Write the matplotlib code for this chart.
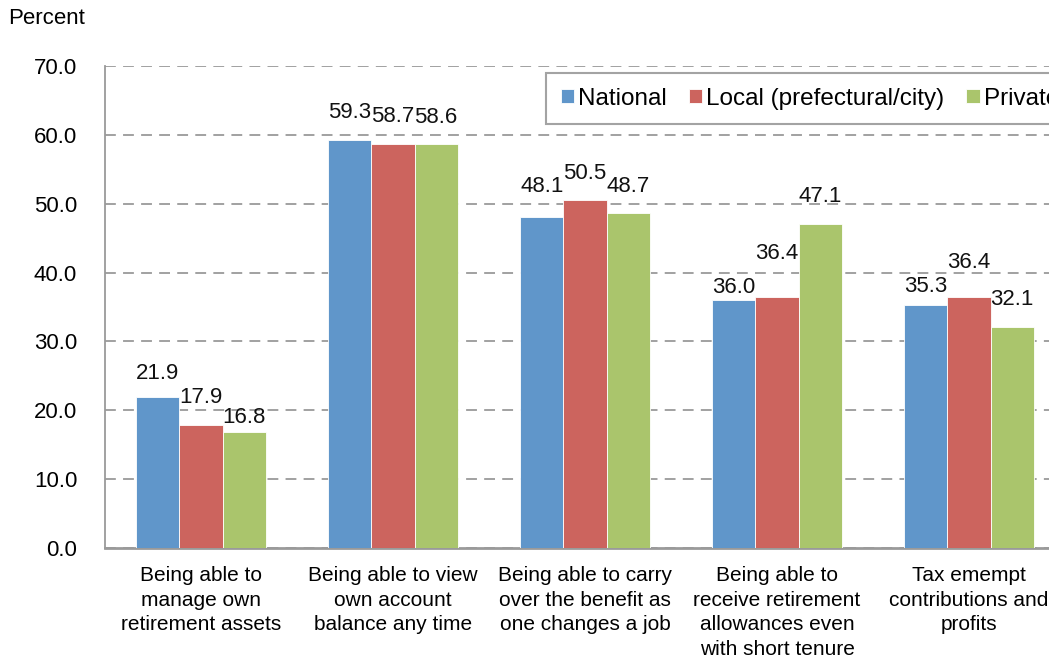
import numpy as np
import matplotlib.pyplot as plt

plt.rcParams['font.family'] = ['Liberation Sans', 'DejaVu Sans']

################################################################################
########    DATA
################################################################################

categories = [
    'Being able to\nmanage own\nretirement assets',
    'Being able to view\nown account\nbalance any time',
    'Being able to carry\nover the benefit as\none changes a job',
    'Being able to\nreceive retirement\nallowances even\nwith short tenure',
    'Tax emempt\ncontributions and\nprofits',
]
series_names = ['National', 'Local (prefectural/city)', 'Private']
national = [21.9, 59.3, 48.1, 36.0, 35.3]
local = [17.9, 58.7, 50.5, 36.4, 36.4]
private = [16.8, 58.6, 48.7, 47.1, 32.1]
yticks = [0, 10, 20, 30, 40, 50, 60, 70]

colors = ['#6096CA', '#CC645E', '#AAC56C']

# label offsets above bar tops (pixels), mimic the Excel placement
label_off = [
    [24, 27, 30, 13, 18],
    [27, 27, 27, 44, 35],
    [15, 27, 26, 27, 27],
]

################################################################################
########    PLOT
################################################################################

W, H = 1049, 660
fig = plt.figure(figsize=(W / 100, H / 100), dpi=100)
# axes runs past the right edge, as in the (cropped) reference
ax = fig.add_axes([105 / W, 1 - 548 / H, 960 / W, (548 - 66) / H])

x = np.arange(len(categories))
bw = 0.224
for i, vals in enumerate([national, local, private]):
    pos = x + (i - 1) * bw
    ax.bar(pos, vals, width=bw, color=colors[i], edgecolor='white',
           linewidth=0.6, label=series_names[i], zorder=3)
    for j, v in enumerate(vals):
        ax.annotate('%.1f' % v, (pos[j], v), xytext=(0, label_off[i][j] * 0.72),
                    textcoords='offset points', ha='center', va='center',
                    fontsize=16, color='#111111')

ax.set_xlim(-0.5, len(categories) - 0.5)
ax.set_ylim(0, 70)
ax.set_yticks(yticks)
ax.set_yticklabels(['%.1f' % t for t in yticks])
ax.set_xticks(x)
ax.set_xticklabels(categories, fontsize=15, linespacing=1.38)
ax.tick_params(axis='y', length=0, pad=20, labelsize=16)
ax.tick_params(axis='x', length=0, pad=13)

ax.yaxis.grid(True, color='#9a9a9a', linestyle=(0, (6, 4)), linewidth=1.3, zorder=0)
ax.set_axisbelow(True)
for s in ['top', 'right']:
    ax.spines[s].set_visible(False)
ax.spines['left'].set_color('#9a9a9a')
ax.spines['left'].set_linewidth(1.3)
ax.spines['bottom'].set_color('#9a9a9a')
ax.spines['bottom'].set_linewidth(2)

leg = ax.legend(ncol=3, loc='upper left', bbox_to_anchor=(546 / W, 1 - 73 / H),
                bbox_transform=fig.transFigure, fontsize=17.5, frameon=True,
                fancybox=False, handlelength=0.55, handleheight=0.55,
                handletextpad=0.17, columnspacing=0.9, borderpad=0.6,
                borderaxespad=0)
leg.get_frame().set_edgecolor('#8c8c8c')
leg.get_frame().set_linewidth(1.5)

fig.text(8 / W, 1 - 8 / H, 'Percent', fontsize=16, va='top', ha='left')

fig.savefig('out.png', dpi=100)
